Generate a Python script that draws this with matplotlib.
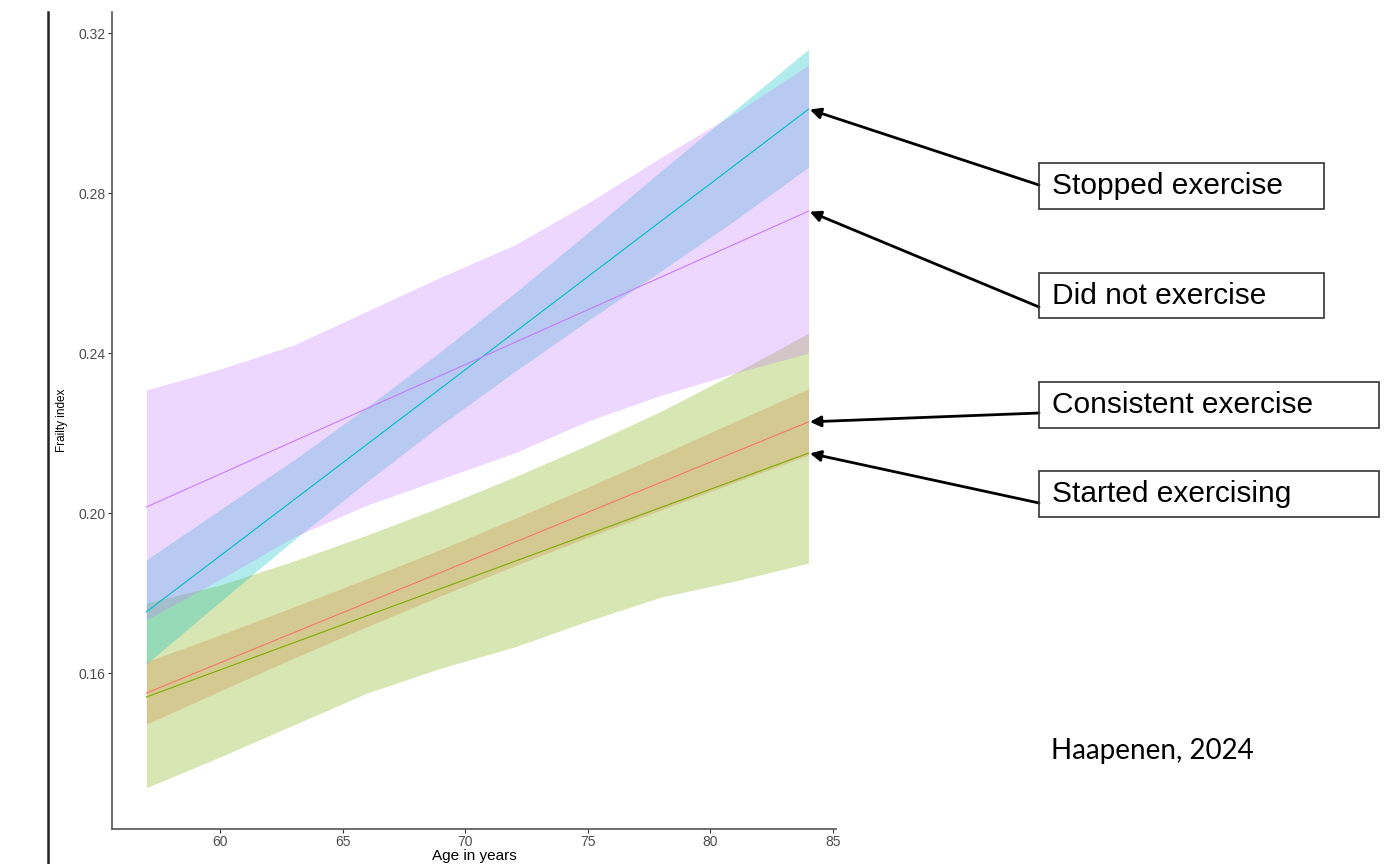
import matplotlib.pyplot as plt
from matplotlib.lines import Line2D

plt.rcParams['font.family'] = ['Liberation Sans', 'DejaVu Sans']

# fitted lines (endpoints) and confidence ribbons, frailty index by age
line_ages = [57, 84]
band_ages = [57, 60, 63, 66, 69, 72, 75, 78, 81, 84]

consistent_fit = [0.1550, 0.2228]
consistent_hi = [0.1628, 0.1695, 0.1765, 0.1836, 0.1909, 0.1986, 0.2065, 0.2146, 0.2229, 0.2311]
consistent_lo = [0.1472, 0.1555, 0.1637, 0.1716, 0.1793, 0.1868, 0.1939, 0.2008, 0.2077, 0.2145]

started_fit = [0.1540, 0.2150]
started_hi = [0.1775, 0.1820, 0.1880, 0.1945, 0.2015, 0.2090, 0.2170, 0.2255, 0.2350, 0.2450]
started_lo = [0.1313, 0.1390, 0.1470, 0.1550, 0.1612, 0.1665, 0.1730, 0.1790, 0.1830, 0.1875]

stopped_fit = [0.1753, 0.3010]
stopped_hi = [0.1883, 0.2008, 0.2132, 0.2265, 0.2404, 0.2549, 0.2701, 0.2856, 0.3008, 0.3160]
stopped_lo = [0.1623, 0.1778, 0.1932, 0.2079, 0.2220, 0.2353, 0.2481, 0.2606, 0.2732, 0.2865]

none_fit = [0.2015, 0.2755]
none_hi = [0.2308, 0.2360, 0.2420, 0.2505, 0.2590, 0.2670, 0.2775, 0.2890, 0.3000, 0.3120]
none_lo = [0.1733, 0.1834, 0.1940, 0.2020, 0.2085, 0.2150, 0.2230, 0.2295, 0.2350, 0.2400]

labels = ["Stopped exercise", "Did not exercise", "Consistent exercise", "Started exercising"]

x_ticks = [60, 65, 70, 75, 80, 85]
y_ticks = [0.16, 0.20, 0.24, 0.28, 0.32]

W, H = 1388, 864
fig = plt.figure(figsize=(W / 100, H / 100), dpi=100)
ax = fig.add_axes([112 / W, 1 - 829 / H, (836 - 112) / W, (829 - 12) / H])

groups = [
    (consistent_fit, consistent_hi, consistent_lo, "#F8766D"),
    (started_fit, started_hi, started_lo, "#7CAE00"),
    (stopped_fit, stopped_hi, stopped_lo, "#00BFC4"),
    (none_fit, none_hi, none_lo, "#C77CFF"),
]
for fit, hi, lo, col in groups:
    ax.fill_between(band_ages, lo, hi, color=col, alpha=0.3, linewidth=0)
    ax.plot(line_ages, fit, color=col, linewidth=0.8)

ax.set_xlim(55.6, 85.12)
ax.set_ylim(0.1210, 0.3253)
ax.set_xticks(x_ticks)
ax.set_yticks(y_ticks)
ax.set_yticklabels([f"{v:.2f}" for v in y_ticks])
ax.tick_params(axis='both', labelsize=10, colors='#333333', labelcolor='#4d4d4d',
               length=3, width=0.8, pad=1.5)
for side in ['top', 'right']:
    ax.spines[side].set_visible(False)
for side in ['left', 'bottom']:
    ax.spines[side].set_color('#555555')
    ax.spines[side].set_linewidth(1.2)
ax.set_xlabel("Age in years", fontsize=11, labelpad=0)
ax.set_ylabel("Frailty index", fontsize=8.5, labelpad=8)

# thin rule at the far left
fig.add_artist(Line2D([48 / W, 48 / W], [0, 1 - 12 / H], color='#222222', linewidth=1.8))

# labelled boxes with arrows to the line ends
box_rows = [(163, 209, 1324), (273, 318, 1324), (382, 428, 1379), (471, 517, 1379)]
tails = [185, 307, 413, 503]
ends = [stopped_fit[-1], none_fit[-1], consistent_fit[-1], started_fit[-1]]
for text, (top, bot, right), tail, yend in zip(labels, box_rows, tails, ends):
    fig.add_artist(plt.Rectangle((1039 / W, 1 - bot / H), (right - 1039) / W,
                                 (bot - top) / H, fill=False, edgecolor='#333333',
                                 linewidth=1.2, transform=fig.transFigure))
    fig.text(1052 / W, 1 - (top + bot) / 2 / H, text, fontsize=21.5, va='center',
             ha='left', color='black')
    ax.annotate("", xy=(line_ages[-1], yend), xycoords='data',
                xytext=(1039 / W, 1 - tail / H), textcoords='figure fraction',
                arrowprops=dict(arrowstyle='-|>', color='black', lw=2,
                                mutation_scale=16, shrinkA=0, shrinkB=1))

fig.text(1051 / W, 1 - 751 / H, "Haapenen, 2024", fontsize=20, va='center',
         ha='left', family=['Lato', 'DejaVu Sans'])

fig.savefig("out.png", dpi=100)
